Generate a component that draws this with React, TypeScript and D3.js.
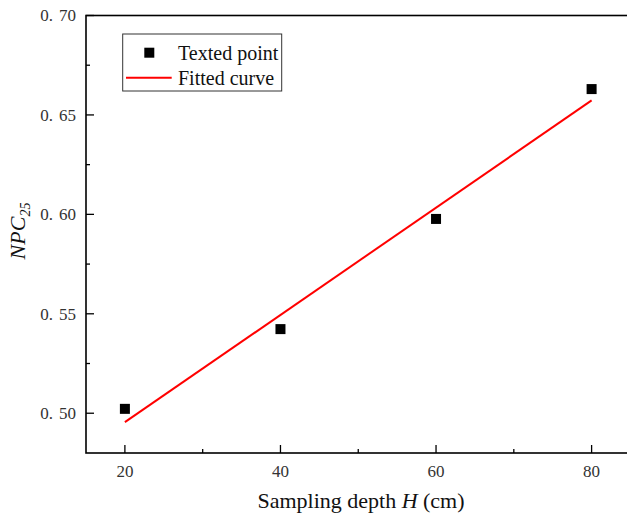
import React from "react";
import * as d3 from "d3";

const depths = [20, 40, 60, 80];
const npcValues = [0.5022, 0.5423, 0.5977, 0.663];
const fitDepths = [20, 80];
const fitValues = [0.4955, 0.6573];
const xTicks = [20, 40, 60, 80];
const xMinorTicks = [30, 50, 70];
const yTicks = [0.5, 0.55, 0.6, 0.65, 0.7];
const yMinorTicks = [0.475, 0.525, 0.575, 0.625, 0.675];

const W = 627;
const H = 515;
const FONT = "'Liberation Serif', 'Times New Roman', serif";

export default function App() {
  const x = d3.scaleLinear().domain([15, 85]).range([86, 630.5]);
  const y = d3.scaleLinear().domain([0.48, 0.7]).range([453, 15.5]);
  const line = d3
    .line<number>()
    .x((_, i) => x(fitDepths[i]))
    .y((d) => y(d));
  const [x0, x1] = x.range();
  const [yb, yt] = y.range();
  const ms = 10;

  return (
    <svg
      width={W}
      height={H}
      style={{ position: "absolute", left: 0, top: 0, background: "#fff" }}
      fontFamily={FONT}
    >
      <rect x={0} y={0} width={W} height={H} fill="#fff" />
      {/* frame */}
      <rect x={x0} y={yt} width={x1 - x0} height={yb - yt} fill="none" stroke="#000" strokeWidth={1.6} />
      {/* y ticks */}
      {yTicks.map((t) => (
        <g key={"y" + t}>
          <line x1={x0} x2={x0 + 8} y1={y(t)} y2={y(t)} stroke="#000" strokeWidth={1.3} />
          <text x={76} y={y(t)} dy="0.35em" textAnchor="end" fontSize={17} fill="#333">
            <tspan>0.</tspan>
            <tspan dx={6}>{d3.format(".2f")(t).slice(2)}</tspan>
          </text>
        </g>
      ))}
      {yMinorTicks
        .filter((t) => t >= 0.48 && t <= 0.7)
        .map((t) => (
          <line key={"ym" + t} x1={x0} x2={x0 + 4} y1={y(t)} y2={y(t)} stroke="#000" strokeWidth={1.3} />
        ))}
      {/* x ticks */}
      {xTicks.map((t) => (
        <g key={"x" + t}>
          <line x1={x(t)} x2={x(t)} y1={yb} y2={yb - 8} stroke="#000" strokeWidth={1.3} />
          <text x={x(t)} y={477} textAnchor="middle" fontSize={17} fill="#333">
            {t}
          </text>
        </g>
      ))}
      {xMinorTicks.map((t) => (
        <line key={"xm" + t} x1={x(t)} x2={x(t)} y1={yb} y2={yb - 4} stroke="#000" strokeWidth={1.3} />
      ))}
      {/* axis titles */}
      <text x={361} y={508} textAnchor="middle" fontSize={22} fill="#111">
        Sampling depth <tspan fontStyle="italic">H</tspan> (cm)
      </text>
      <text transform={`translate(25,${231}) rotate(-90)`} textAnchor="middle" fontSize={22} fill="#111">
        <tspan fontStyle="italic">NPC</tspan>
        <tspan fontStyle="italic" fontSize={14} dy={5}>25</tspan>
      </text>
      {/* fitted line */}
      <path d={line(fitValues) || ""} fill="none" stroke="#ff0000" strokeWidth={2} />
      {/* points */}
      {depths.map((d, i) => (
        <rect key={"p" + d} x={x(d) - ms / 2} y={y(npcValues[i]) - ms / 2} width={ms} height={ms} fill="#000" />
      ))}
      {/* legend */}
      <rect x={122.7} y={34} width={159} height={57} fill="#fff" stroke="#333" strokeWidth={1} />
      <rect x={149.3 - ms / 2} y={52.7 - ms / 2} width={ms} height={ms} fill="#000" />
      <text x={178} y={52.7} dy="0.35em" fontSize={20} fill="#111">Texted point</text>
      <line x1={126} x2={171.7} y1={77.7} y2={77.7} stroke="#ff0000" strokeWidth={2} />
      <text x={178} y={77.7} dy="0.35em" fontSize={20} fill="#111">Fitted curve</text>
    </svg>
  );
}
